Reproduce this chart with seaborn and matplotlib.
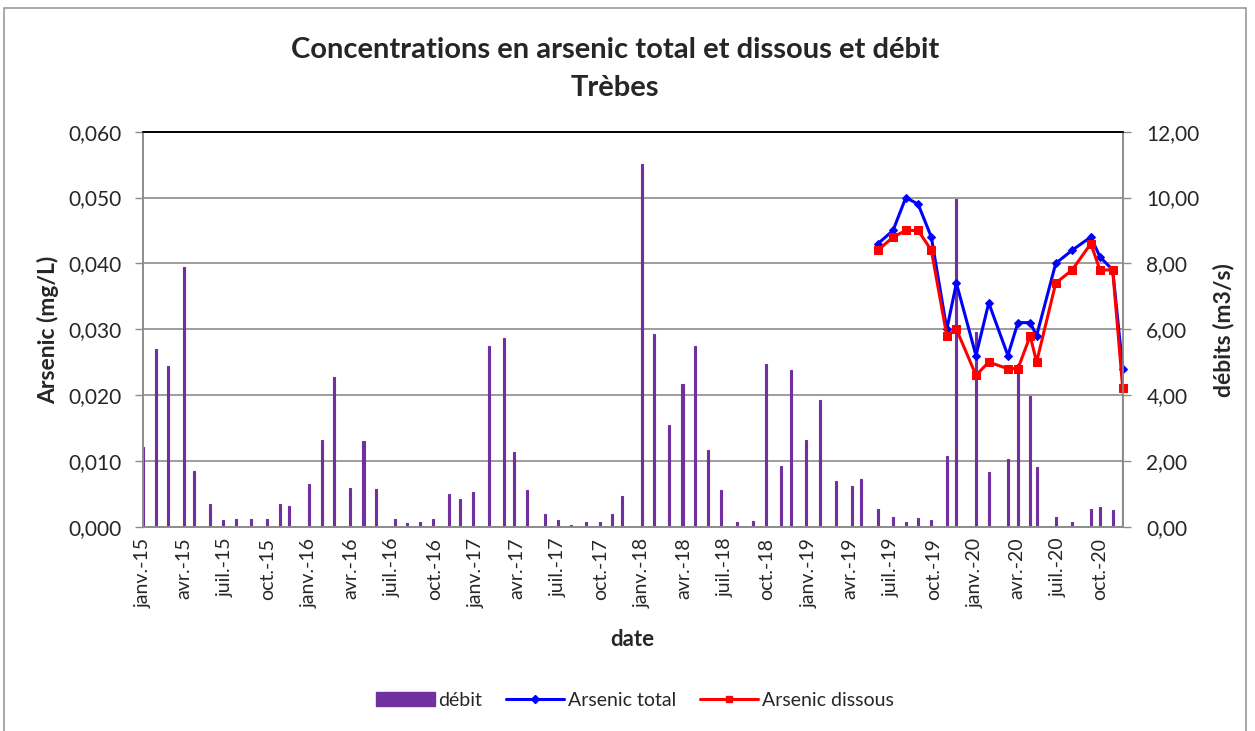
import pandas as pd
import numpy as np
import matplotlib.pyplot as plt
import matplotlib.patches as mpatches
import matplotlib.lines as mlines
from matplotlib.ticker import FuncFormatter, MultipleLocator
import seaborn as sns

# débit (m3/s) - sampling dates and flows
debit_dates = ['2015-01-01', '2015-01-29', '2015-02-26', '2015-04-02', '2015-04-24', '2015-05-28',
               '2015-06-26', '2015-07-25', '2015-08-26', '2015-10-01', '2015-10-29', '2015-11-18',
               '2015-12-31', '2016-01-28', '2016-02-25', '2016-03-31', '2016-04-29', '2016-05-27',
               '2016-07-07', '2016-08-03', '2016-08-31', '2016-09-29', '2016-11-03', '2016-11-26',
               '2016-12-25', '2017-01-29', '2017-03-03', '2017-03-25', '2017-04-22', '2017-06-01',
               '2017-06-29', '2017-07-29', '2017-08-31', '2017-09-29', '2017-10-26', '2017-11-17',
               '2017-12-31', '2018-01-26', '2018-03-01', '2018-03-30', '2018-04-27', '2018-05-25',
               '2018-06-22', '2018-07-27', '2018-08-31', '2018-09-29', '2018-11-01', '2018-11-23',
               '2018-12-27', '2019-01-25', '2019-03-02', '2019-04-05', '2019-04-25', '2019-06-02',
               '2019-07-05', '2019-08-02', '2019-08-29', '2019-09-27', '2019-10-31', '2019-11-21',
               '2020-01-03', '2020-01-31', '2020-03-13', '2020-04-04', '2020-05-01', '2020-05-15',
               '2020-06-26', '2020-08-01', '2020-09-11', '2020-10-01', '2020-10-29', '2020-11-20']
debit = [2.43, 5.39, 4.89, 7.90, 1.69, 0.68, 0.19, 0.24, 0.24, 0.24,
         0.70, 0.64, 1.30, 2.64, 4.55, 1.18, 2.61, 1.15, 0.24, 0.10,
         0.13, 0.24, 0.99, 0.84, 1.05, 5.50, 5.74, 2.26, 1.11, 0.39,
         0.19, 0.05, 0.13, 0.13, 0.39, 0.94, 11.01, 5.86, 3.10, 4.34,
         5.50, 2.34, 1.11, 0.13, 0.16, 4.94, 1.84, 4.75, 2.64, 3.85,
         1.40, 1.25, 1.45, 0.55, 0.29, 0.15, 0.25, 0.20, 2.15, 9.95,
         5.90, 1.65, 2.05, 4.94, 3.96, 1.80, 0.29, 0.13, 0.53, 0.61,
         0.51, 5.49]

# arsenic (mg/L)
as_dates = ['2019-06-02', '2019-07-05', '2019-08-02', '2019-08-29', '2019-09-27', '2019-10-31',
            '2019-11-21', '2020-01-03', '2020-01-31', '2020-03-13', '2020-04-04', '2020-05-01',
            '2020-05-15', '2020-06-26', '2020-08-01', '2020-09-11', '2020-10-01', '2020-10-29',
            '2020-11-20']
as_total = [0.043, 0.045, 0.050, 0.049, 0.044, 0.030, 0.037, 0.026, 0.034, 0.026,
            0.031, 0.031, 0.029, 0.040, 0.042, 0.044, 0.041, 0.039, 0.024]
as_dissous = [0.042, 0.044, 0.045, 0.045, 0.042, 0.029, 0.030, 0.023, 0.025, 0.024,
              0.024, 0.029, 0.025, 0.037, 0.039, 0.043, 0.039, 0.039, 0.021]

tick_labels = ['janv.-15', 'avr.-15', 'juil.-15', 'oct.-15', 'janv.-16', 'avr.-16', 'juil.-16', 'oct.-16',
               'janv.-17', 'avr.-17', 'juil.-17', 'oct.-17', 'janv.-18', 'avr.-18', 'juil.-18', 'oct.-18',
               'janv.-19', 'avr.-19', 'juil.-19', 'oct.-19', 'janv.-20', 'avr.-20', 'juil.-20', 'oct.-20']

sns.set_style('white')
plt.rcParams['font.family'] = ['Lato', 'DejaVu Sans']

df_q = pd.DataFrame({'date': pd.to_datetime(debit_dates), 'debit': debit})
df_as = pd.DataFrame({'date': pd.to_datetime(as_dates), 'total': as_total, 'dissous': as_dissous})

purple = '#7030A0'
grid_c = '#8c8c8c'

fig = plt.figure(figsize=(12.55, 7.31), dpi=100)
ax = fig.add_axes([0.1139, 0.2795, 0.7807, 0.5403])
ax2 = ax.twinx()
ax.set_zorder(ax2.get_zorder() + 1)
ax.patch.set_visible(False)

# bars on the right axis (behind the lines)
ax2.bar(df_q['date'], df_q['debit'], width=4.5, color=purple, edgecolor=purple, linewidth=0.8, zorder=2)
ax2.set_ylim(0, 12)
ax2.yaxis.set_major_locator(MultipleLocator(2))
ax2.yaxis.set_major_formatter(FuncFormatter(lambda v, p: f'{v:.2f}'.replace('.', ',')))
ax2.grid(axis='y', color=grid_c, linewidth=1.2, zorder=0)
ax2.set_axisbelow(True)

# lines on the left axis
sns.lineplot(data=df_as, x='date', y='total', ax=ax, color='#0000FF', linewidth=2.2,
             marker='D', markersize=4, markeredgecolor='#0000FF', clip_on=False)
sns.lineplot(data=df_as, x='date', y='dissous', ax=ax, color='#FF0000', linewidth=2.2,
             marker='s', markersize=5.5, markeredgecolor='#FF0000', clip_on=False)
ax.set_ylim(0, 0.06)
ax.yaxis.set_major_locator(MultipleLocator(0.01))
ax.yaxis.set_major_formatter(FuncFormatter(lambda v, p: f'{v:.3f}'.replace('.', ',')))

ax.set_xlim(pd.Timestamp('2015-01-01'), pd.Timestamp('2020-11-20'))
ticks = pd.date_range('2015-01-01', '2020-10-01', freq='QS')
ax.set_xticks(ticks)
ax.set_xticklabels(tick_labels, rotation=90, fontsize=14)
ax.set_xlabel('')
ax.set_ylabel('')
ax2.set_ylabel('')

for a in (ax, ax2):
    for s in a.spines.values():
        s.set_color(grid_c)
        s.set_linewidth(1.2)
    a.spines['top'].set_color('black')
ax.tick_params(axis='x', direction='out', length=5, width=1, color=grid_c, pad=3)
ax.tick_params(axis='y', direction='out', length=6, width=1, color=grid_c, labelsize=15, pad=9)
ax2.tick_params(axis='y', direction='out', length=6, width=1, color=grid_c, labelsize=15, pad=11)
ax.yaxis.set_ticks_position('left')

# titles and labels
fig.text(0.49, 0.932, 'Concentrations en arsenic total et dissous et débit', ha='center', va='center',
         fontsize=21, fontweight='bold')
fig.text(0.49, 0.880, 'Trèbes', ha='center', va='center', fontsize=21, fontweight='bold')
fig.text(0.038, 0.549, 'Arsenic (mg/L)', rotation=90, ha='center', va='center', fontsize=16.5, fontweight='bold')
fig.text(0.975, 0.549, 'débits (m3/s)', rotation=90, ha='center', va='center', fontsize=16.5, fontweight='bold')
fig.text(0.504, 0.1245, 'date', ha='center', va='center', fontsize=16, fontweight='bold')

# legend
h_q = mpatches.Patch(color=purple, label='débit')
h_t = mlines.Line2D([], [], color='#0000FF', lw=2.2, marker='D', markersize=4, label='Arsenic total')
h_d = mlines.Line2D([], [], color='#FF0000', lw=2.2, marker='s', markersize=5, label='Arsenic dissous')
fig.legend(handles=[h_q, h_t, h_d], loc='center', bbox_to_anchor=(0.506, 0.042), ncol=3,
           frameon=False, fontsize=14, handlelength=3, handletextpad=0.2, columnspacing=1.2)

# chart area border
fig.add_artist(mpatches.Rectangle((0.003, -0.01), 0.99, 0.999, transform=fig.transFigure,
                                  fill=False, edgecolor='#9a9a9a', linewidth=1.2))

plt.savefig('out.png', dpi=100)
